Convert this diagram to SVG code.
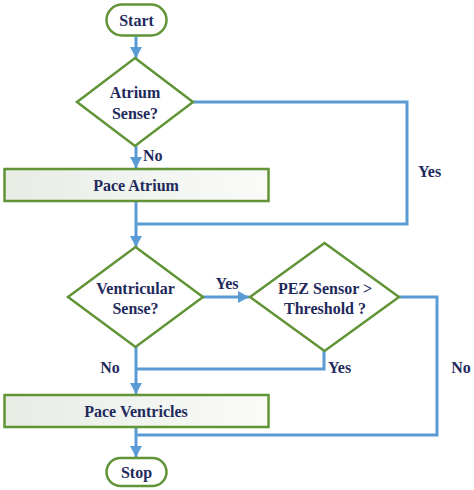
<svg xmlns="http://www.w3.org/2000/svg" width="474" height="490" viewBox="0 0 474 490">
<style>
.node{stroke:#609436;stroke-width:2.5;}
.term{fill:#ffffff;}
.dec{fill:#ffffff;}
.proc{fill:url(#pg);}
.t{font-family:"Liberation Serif","Times New Roman",serif;font-weight:bold;font-size:16px;fill:#1F2A5C;text-anchor:middle;dominant-baseline:central;}
.tl{font-family:"Liberation Serif","Times New Roman",serif;font-weight:bold;font-size:16px;fill:#1F2A5C;text-anchor:start;dominant-baseline:central;}
.c{fill:none;stroke:#5B9BD5;stroke-width:3;stroke-linejoin:miter;}
</style>
<defs>
<linearGradient id="pg" x1="0" y1="0" x2="1" y2="0">
<stop offset="0" stop-color="#E8ECE5"/>
<stop offset="1" stop-color="#FAFBF9"/>
</linearGradient>
<marker id="ah" markerUnits="userSpaceOnUse" markerWidth="12" markerHeight="12" refX="11" refY="6" orient="auto">
<path d="M0,0 L11,6 L0,12 Z" fill="#5B9BD5"/>
</marker>
</defs>
<g id="connectors">
<path class="c" d="M136,36 V58" marker-end="url(#ah)"/>
<path class="c" d="M136,146 V168" marker-end="url(#ah)"/>
<path class="c" d="M193,102 H407 V224 H136"/>
<path class="c" d="M136,201 V247" marker-end="url(#ah)"/>
<path class="c" d="M203,297 H249" marker-end="url(#ah)"/>
<path class="c" d="M324,351 V369 H136"/>
<path class="c" d="M136,347 V394" marker-end="url(#ah)"/>
<path class="c" d="M399,297 H437 V435 H136"/>
<path class="c" d="M136,427 V457" marker-end="url(#ah)"/>
<text class="tl" x="143" y="155">No</text>
<text class="tl" x="418" y="171">Yes</text>
<text class="t" x="227" y="283">Yes</text>
<text class="tl" x="328" y="367">Yes</text>
<text class="t" x="110" y="367">No</text>
<text class="t" x="461" y="367">No</text>
</g>
<g id="start">
<rect class="node term" x="106.5" y="4.5" width="60" height="31" rx="15.5"/>
<text class="t" x="136.5" y="20">Start</text>
</g>
<g id="atrium-sense">
<polygon class="node dec" points="135,58 193,102 135,146 77,102"/>
<text class="t" x="135" y="92">Atrium</text>
<text class="t" x="135" y="113">Sense?</text>
</g>
<g id="pace-atrium">
<rect class="node proc" x="4.5" y="169" width="264" height="32"/>
<text class="t" x="136" y="185">Pace Atrium</text>
</g>
<g id="ventricular-sense">
<polygon class="node dec" points="135.5,247 203,297 135.5,347 68,297"/>
<text class="t" x="135.5" y="288">Ventricular</text>
<text class="t" x="135.5" y="308">Sense?</text>
</g>
<g id="pez-sensor">
<polygon class="node dec" points="324.5,243 399,297 324.5,351 250,297"/>
<text class="t" x="325" y="288">PEZ Sensor &gt;</text>
<text class="t" x="325" y="308">Threshold ?</text>
</g>
<g id="pace-ventricles">
<rect class="node proc" x="4.5" y="395" width="264" height="32"/>
<text class="t" x="136" y="411">Pace Ventricles</text>
</g>
<g id="stop">
<rect class="node term" x="106.5" y="458" width="60" height="28" rx="14"/>
<text class="t" x="136.5" y="472">Stop</text>
</g>
</svg>
